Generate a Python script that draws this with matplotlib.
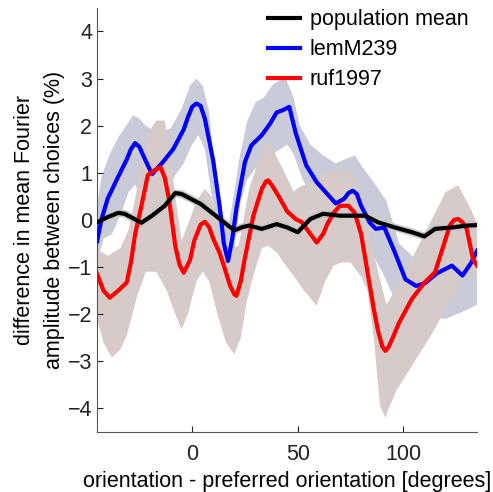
import numpy as np
import matplotlib
matplotlib.use("Agg")
from matplotlib import pyplot as plt

plt.rcParams['font.family'] = ['Liberation Sans', 'DejaVu Sans']

# population mean
mean_x = [-45, -40, -35, -32, -29, -24, -19, -13, -8, -5, -2, 4, 10, 15, 20, 24, 27, 33, 40, 45,
          50, 53, 56, 62, 70, 78, 82, 88, 96, 104, 110, 115, 123, 130, 135]
mean_y = [-0.05, 0.06, 0.15, 0.13, 0.06, -0.06, 0.09, 0.3, 0.57, 0.55, 0.48, 0.34, 0.13, -0.05, -0.22,
          -0.15, -0.12, -0.19, -0.09, -0.16, -0.26, -0.12, 0.02, 0.13, 0.09, 0.09, 0.09, -0.05, -0.16,
          -0.26, -0.35, -0.19, -0.16, -0.12, -0.11]

# lemM239
lem_x = [-45, -43, -40, -35, -31, -29, -27, -25, -23, -19, -14, -9, -4, -2, 0, 2, 4, 6, 8, 10, 13,
         15, 17, 19, 21, 25, 28, 33, 37, 40, 43, 46, 49, 54, 59, 64, 68, 72, 74, 76, 78, 80, 84, 87,
         91, 96, 101, 106, 110, 116, 123, 128, 132, 135]
lem_y = [-0.45, 0.0, 0.45, 0.92, 1.28, 1.5, 1.63, 1.55, 1.35, 0.97, 1.22, 1.5, 1.92, 2.18, 2.4, 2.47,
         2.42, 2.15, 1.7, 1.25, 0.3, -0.5, -0.87, -0.4, 0.25, 1.23, 1.58, 1.8, 2.05, 2.28, 2.33, 2.4,
         1.85, 1.16, 0.8, 0.55, 0.35, 0.45, 0.57, 0.62, 0.55, 0.3, -0.05, -0.19, -0.16, -0.69, -1.26,
         -1.4, -1.35, -1.13, -0.97, -1.18, -0.92, -0.65]
lem_hi_x = [-45, -43, -39, -35, -32, -28, -25, -22, -18, -14, -10, -5, -1, 2, 5, 8, 11, 14, 17, 20,
            22, 26, 30, 34, 38, 44, 48, 51, 56, 62, 68, 73, 77, 81, 86, 92, 98, 105, 112, 120, 127, 135]
lem_hi = [0.3, 0.9, 1.4, 1.75, 1.95, 2.22, 2.15, 2.0, 1.9, 1.87, 1.95, 2.36, 2.85, 3.0, 2.85, 2.3,
          1.0, 0.2, -0.2, 0.6, 1.22, 2.08, 2.5, 2.6, 2.86, 3.04, 2.6, 2.0, 1.6, 1.37, 1.2, 1.3, 1.37,
          1.1, 0.8, 0.4, -0.5, -0.8, -0.9, -0.8, -0.6, -0.55]
lem_lo_x = [-45, -42, -38, -34, -30, -27, -24, -20, -16, -12, -8, -4, 0, 3, 6, 9, 12, 15, 17, 20,
            23, 26, 30, 35, 40, 45, 48, 52, 56, 60, 65, 70, 75, 80, 85, 90, 95, 100, 110, 120, 128, 135]
lem_lo = [-0.9, -0.4, -0.3, 0.1, 0.6, 0.75, 0.5, 0.1, 0.3, 0.6, 0.95, 1.2, 1.6, 1.8, 1.5, 0.6, -0.3,
          -1.0, -1.3, -0.6, 0.4, 0.85, 1.1, 1.25, 1.45, 1.6, 1.4, 0.9, 0.5, 0.45, 0.0, -0.3, -0.1,
          -0.3, -0.7, -1.1, -1.6, -1.95, -2.05, -2.1, -1.95, -1.8]

# ruf1997
ruf_x = [-45, -42, -39, -35, -31, -29, -27, -24, -21, -18, -15, -13, -11, -8, -6, -4, -1, 1, 4, 6,
         8, 10, 13, 15, 18, 20, 21, 23, 25, 29, 33, 35, 36, 38, 41, 45, 49, 52, 56, 59, 62, 64, 67,
         70, 74, 77, 80, 82, 86, 88, 90, 91.5, 93, 95, 98, 104, 110, 115, 119, 122, 124, 126, 128,
         130, 133, 135]
ruf_y = [-1.15, -1.5, -1.65, -1.5, -1.33, -0.9, -0.3, 0.3, 0.95, 1.05, 1.12, 0.9, 0.45, -0.55, -0.95,
         -1.12, -0.85, -0.44, -0.1, -0.04, -0.15, -0.4, -0.7, -0.97, -1.4, -1.58, -1.61, -1.3, -0.8,
         0.09, 0.66, 0.82, 0.84, 0.72, 0.5, 0.18, 0.02, -0.05, -0.3, -0.48, -0.3, -0.09, 0.15, 0.3,
         0.3, 0.15, -0.3, -0.83, -1.89, -2.35, -2.68, -2.78, -2.7, -2.5, -2.18, -1.68, -1.33, -1.11,
         -0.55, -0.12, 0.0, 0.02, -0.05, -0.19, -0.83, -0.97]
ruf_hi_x = [-45, -40, -34, -30, -27, -24, -20, -17, -13, -11, -8, -5, -2, 2, 6, 9, 12, 15, 18, 22,
            27, 31, 34, 37, 43, 48, 52, 58, 63, 68, 75, 80, 84, 88, 92, 96, 104, 112, 120, 126, 132, 135]
ruf_hi = [-0.62, -0.76, -0.6, -0.2, 0.45, 1.2, 1.9, 2.11, 2.11, 1.6, 0.5, -0.44, -0.1, 0.4, 0.66,
          0.5, -0.1, -0.5, -0.6, -0.55, 0.66, 1.2, 1.58, 1.6, 1.08, 0.6, 0.73, 0.8, 1.0, 1.05, 1.05,
          0.5, -0.3, -1.1, -1.8, -1.5, -0.83, -0.12, 0.59, 0.73, 0.23, -0.1]
ruf_lo_x = [-45, -42, -38, -34, -31, -26, -22, -17, -12, -8, -5, -2, 2, 5, 8, 12, 16, 20, 23, 26,
            29, 33, 36, 40, 44, 48, 53, 59, 63, 67, 71, 75, 80, 83, 86, 89, 91.5, 94, 97, 105, 113,
            121, 127, 131, 135]
ruf_lo = [-2.1, -2.6, -2.92, -2.75, -2.46, -1.61, -1.1, -1.1, -1.5, -2.0, -2.32, -2.0, -1.3, -1.1,
          -1.3, -2.0, -2.6, -2.85, -2.5, -1.7, -1.18, -0.6, -0.55, -0.69, -0.95, -1.18, -1.5, -1.82,
          -1.3, -0.97, -0.9, -0.9, -1.2, -1.5, -2.5, -3.95, -4.2, -3.9, -3.6, -3.03, -2.46, -1.82,
          -1.33, -1.1, -1.2]

xticks = [0, 50, 100]
yticks = [-4, -3, -2, -1, 0, 1, 2, 3, 4]


def band(ax, xh, yh, xl, yl, color):
    xs = np.concatenate([xh, xl[::-1]])
    ys = np.concatenate([yh, yl[::-1]])
    ax.fill(xs, ys, color=color, lw=0)


fig = plt.figure(figsize=(4.93, 4.92), dpi=100)
ax = fig.add_axes([0.197, 0.122, 0.771, 0.862])

band(ax, lem_hi_x, lem_hi, lem_lo_x, lem_lo, '#c9cbd8')
band(ax, ruf_hi_x, ruf_hi, ruf_lo_x, ruf_lo, '#d7cbc9')
ax.plot(mean_x, mean_y, color='#c8c8c8', lw=5.5, solid_joinstyle='round')

ax.plot(lem_x, lem_y, color='#0000ff', lw=3, solid_joinstyle='round', label='lemM239', zorder=3)
ax.plot(ruf_x, ruf_y, color='#ff0000', lw=3, solid_joinstyle='round', label='ruf1997', zorder=4)
ax.plot(mean_x, mean_y, color='black', lw=3, solid_joinstyle='round', label='population mean', zorder=5)

ax.set_xlim(-45, 135)
ax.set_ylim(-4.5, 4.5)
ax.set_xticks(xticks)
ax.set_yticks(yticks)
ax.tick_params(direction='in', length=4, width=0.8, labelsize=15.5, colors='#222222')
ax.tick_params(axis='x', pad=9)
ax.spines['top'].set_visible(False)
ax.spines['right'].set_visible(False)
for s in ['left', 'bottom']:
    ax.spines[s].set_color('#555555')
    ax.spines[s].set_linewidth(0.8)

ax.set_xlabel('orientation - preferred orientation [degrees]', fontsize=15.5, labelpad=4)
ax.set_ylabel('difference in mean Fourier\namplitude between choices (%)', fontsize=15.5,
              labelpad=2, linespacing=1.55)

h, l = ax.get_legend_handles_labels()
order = [2, 0, 1]
ax.legend([h[i] for i in order], [l[i] for i in order], loc='upper right', frameon=False,
          fontsize=15.5, handlelength=1.5, handletextpad=0.45, labelspacing=0.42,
          bbox_to_anchor=(1.0, 1.017), borderaxespad=0.0)

fig.savefig('out.png', dpi=100)
